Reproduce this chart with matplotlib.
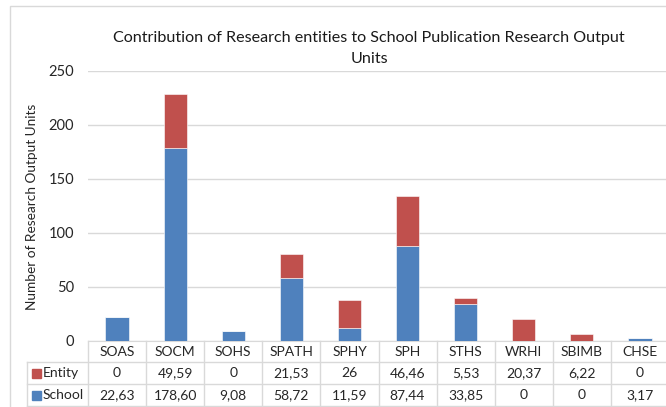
import numpy as np
import matplotlib.pyplot as plt
from matplotlib.transforms import blended_transform_factory
from matplotlib.patches import Rectangle
from matplotlib.lines import Line2D

plt.rcParams['font.family'] = ['Lato', 'DejaVu Sans']

categories = ['SOAS', 'SOCM', 'SOHS', 'SPATH', 'SPHY', 'SPH', 'STHS', 'WRHI', 'SBIMB', 'CHSE']
school = [22.63, 178.60, 9.08, 58.72, 11.59, 87.44, 33.85, 0, 0, 3.17]
entity = [0, 49.59, 0, 21.53, 26, 46.46, 5.53, 20.37, 6.22, 0]
yticks = [0, 50, 100, 150, 200, 250]

blue = '#4F81BD'
red = '#C0504D'
grey = '#D9D9D9'
txt = '#262626'

W, H = 666, 407
fig = plt.figure(figsize=(W / 100, H / 100), dpi=100)

def fx(px):
    return px / W

def fy(py):
    return 1 - py / H

# frame round the chart
fig.patches.append(Rectangle((fx(10.5), fy(420)), fx(700), fy(6) - fy(420),
                             transform=fig.transFigure, fill=False, edgecolor=grey, lw=1))

ax = fig.add_axes([fx(88), fy(341), fx(581), fy(70.7) - fy(341)])
x = np.arange(len(categories))
ax.bar(x, school, width=0.4, color=blue, edgecolor='white', lw=0.4, zorder=3)
ax.bar(x, entity, width=0.4, bottom=school, color=red, edgecolor='white', lw=0.4, zorder=3)

ax.set_xlim(-0.5, len(categories) - 0.5)
ax.set_ylim(0, 250)
ax.set_yticks(yticks)
ax.tick_params(axis='y', length=0, pad=10, labelsize=10.5, colors=txt)
ax.set_xticks([])
ax.yaxis.grid(True, color=grey, lw=1)
ax.set_axisbelow(True)
for s in ['top', 'right', 'left']:
    ax.spines[s].set_visible(False)
ax.spines['bottom'].set_color(grey)

fig.text(fx(32), fy(207), 'Number of Research Output Units', rotation=90,
         ha='center', va='center', fontsize=9.8, color=txt)
fig.text(fx(369), fy(48.5), 'Contribution of Research entities to School Publication Research Output\nUnits',
         ha='center', va='center', fontsize=11.6, color='#1a1a1a', linespacing=1.55)

# data table under the bars
tr = blended_transform_factory(ax.transData, fig.transFigure)
n = len(categories)

def fmt(v):
    if float(v).is_integer():
        return str(int(v))
    return f'{v:.2f}'.replace('.', ',')

rows_y = [351.5, 373, 395]
for i, c in enumerate(categories):
    fig.text(i, fy(rows_y[0]), c, transform=tr, ha='center', va='center', fontsize=10, color=txt)
    fig.text(i, fy(rows_y[1]), fmt(entity[i]), transform=tr, ha='center', va='center', fontsize=10, color=txt)
    fig.text(i, fy(rows_y[2]), fmt(school[i]), transform=tr, ha='center', va='center', fontsize=10, color=txt)

for b in np.arange(-0.5, n, 1.0):
    fig.lines.append(Line2D([b, b], [fy(341), fy(406)], transform=tr, color=grey, lw=1))
for yy in [362, 384, 406]:
    fig.lines.append(Line2D([fx(27), fx(700)], [fy(yy), fy(yy)], transform=fig.transFigure, color=grey, lw=1))
fig.lines.append(Line2D([fx(27), fx(27)], [fy(362), fy(406)], transform=fig.transFigure, color=grey, lw=1))

for label, col, yy in [('Entity', red, rows_y[1]), ('School', blue, rows_y[2])]:
    fig.patches.append(Rectangle((fx(32), fy(yy + 4.5)), fx(9), fy(yy - 4.5) - fy(yy + 4.5),
                                 transform=fig.transFigure, color=col))
    fig.text(fx(43), fy(yy), label, ha='left', va='center', fontsize=10, color=txt)

plt.savefig('out.png', dpi=100)
